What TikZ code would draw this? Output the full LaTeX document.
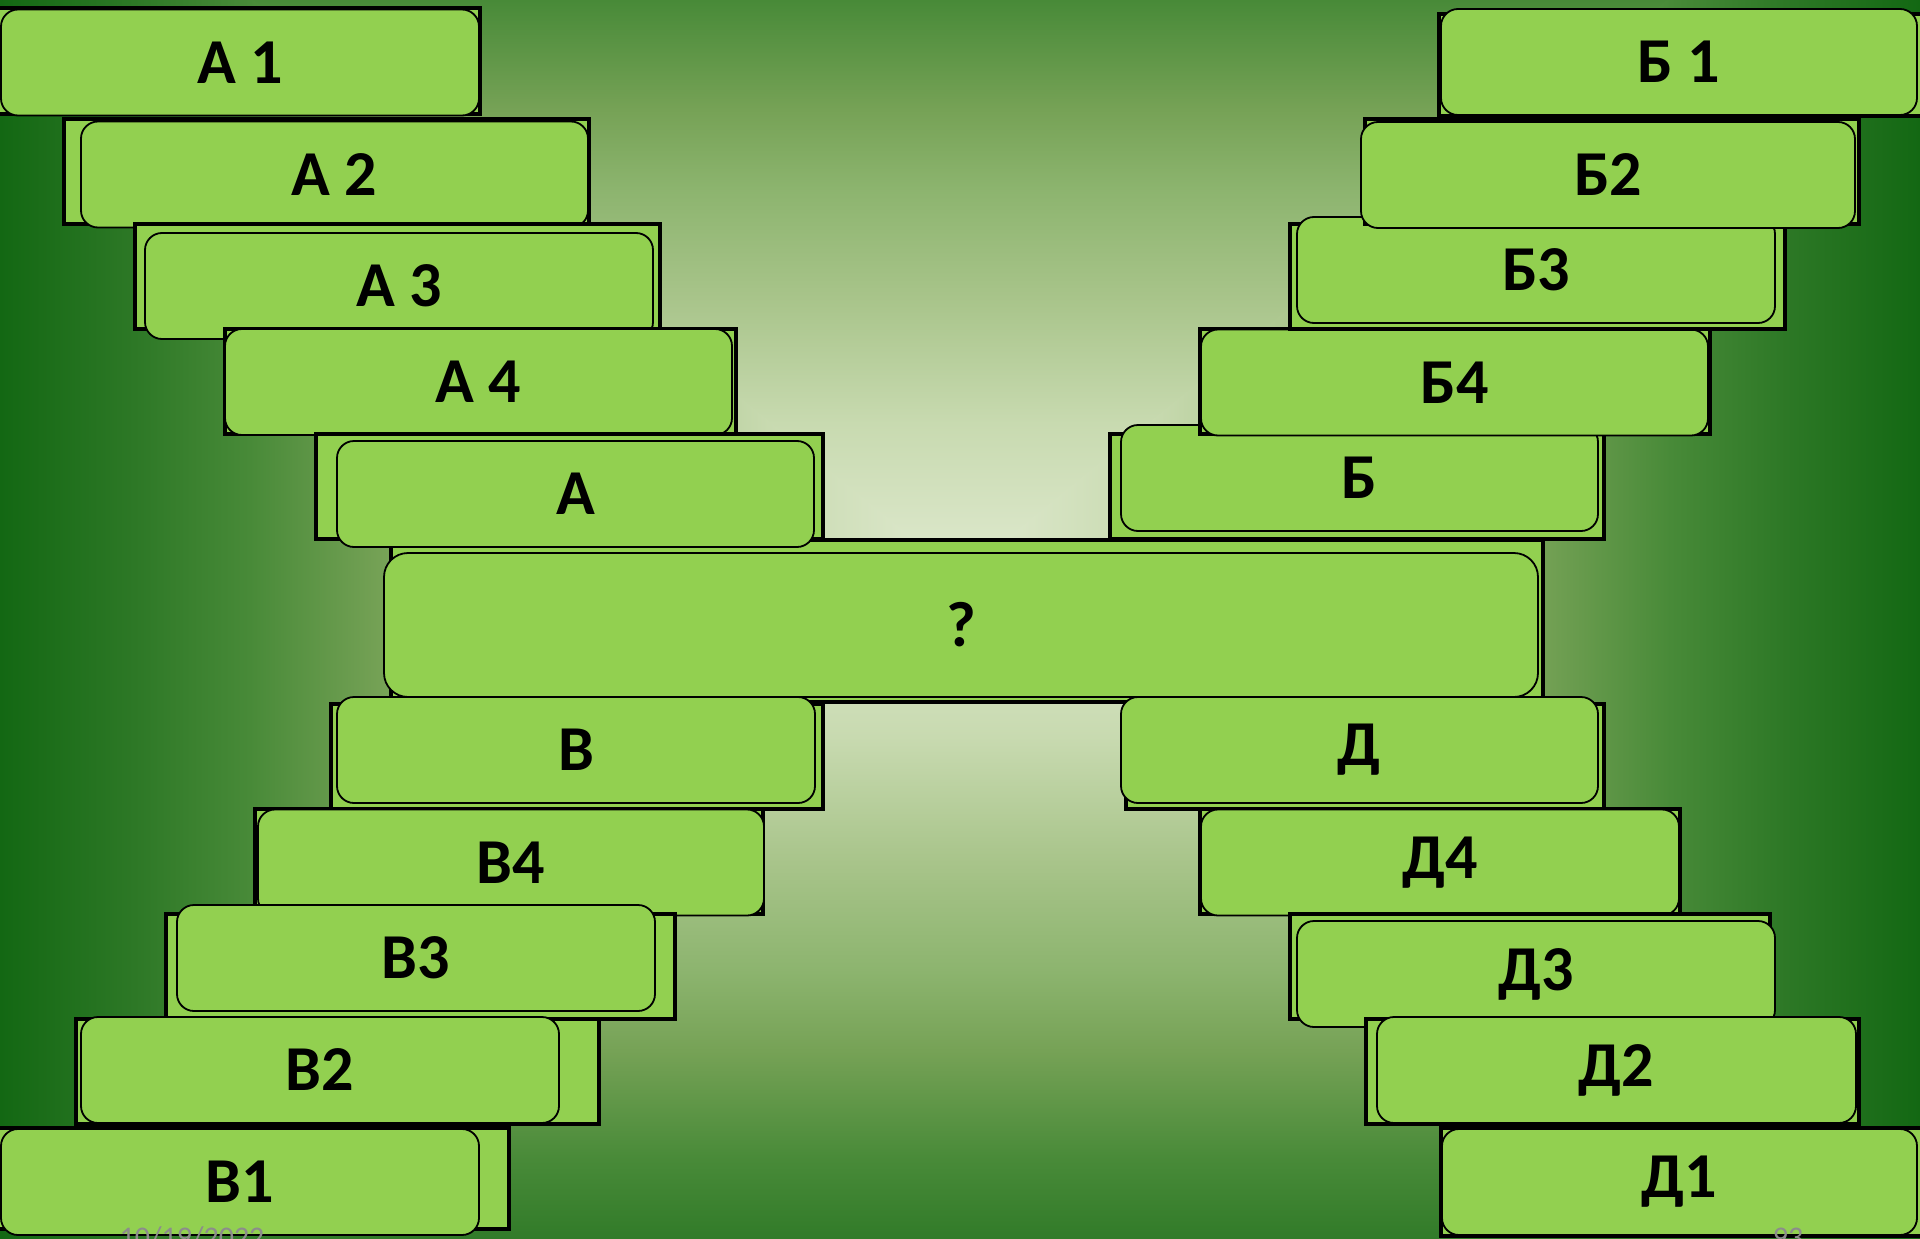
\documentclass[tikz,border=0pt]{standalone}
\usepackage{fontspec}
\setmainfont{Carlito}

\definecolor{boxgreen}{HTML}{92D050}
\definecolor{footgray}{RGB}{140,140,140}
% background ramp, from the light middle out to the dark rim
\definecolor{bgA}{RGB}{224,234,208}
\definecolor{bgB}{RGB}{200,218,176}
\definecolor{bgC}{RGB}{168,196,138}
\definecolor{bgD}{RGB}{140,180,110}
\definecolor{bgE}{RGB}{118,162,86}
\definecolor{bgF}{RGB}{72,138,56}
\definecolor{bgG}{RGB}{45,120,38}
\definecolor{bgH}{RGB}{19,104,19}
\pgfdeclareverticalshading{bgfade}{100bp}{color(0bp)=(bgA); color(25bp)=(bgA);
  color(35bp)=(bgB); color(43bp)=(bgC); color(50bp)=(bgD); color(55bp)=(bgE);
  color(62bp)=(bgF); color(68bp)=(bgG); color(75bp)=(bgH); color(100bp)=(bgH)}

\begin{document}
\begin{tikzpicture}[x=1pt, y=-1pt,
    backbox/.style={rectangle, draw=black, line width=4pt, fill=boxgreen, minimum height=105pt, inner sep=0pt},
    tilebox/.style={rectangle, rounded corners=17pt, draw=black, line width=1.8pt, fill=boxgreen,
      minimum height=106pt, inner sep=0pt, font=\fontsize{64}{70}\selectfont\bfseries},
    footer/.style={text=footgray, font=\fontsize{30}{34}\selectfont, inner sep=0pt, anchor=base}]
  \useasboundingbox (0,0) rectangle (1920,1239);

  % background
  \begin{scope}
    \clip (0,0) rectangle (1920,1239);
    \begin{scope}
      \clip (960,580) -- (-4,-204) -- (1924,-204) -- cycle;
      \shade[shading=bgfade] (0,-204) rectangle (1920,580);
    \end{scope}
    \begin{scope}
      \clip (960,580) -- (-4,1364) -- (1924,1364) -- cycle;
      \shade[shading=bgfade, shading angle=180] (0,580) rectangle (1920,1364);
    \end{scope}
    \begin{scope}
      \clip (964,580) -- (-4,-210) -- (-4,1370) -- cycle;
      \shade[shading=bgfade, shading angle=90] (0,-204) rectangle (960,1364);
    \end{scope}
    \begin{scope}
      \clip (956,580) -- (1924,-210) -- (1924,1370) -- cycle;
      \shade[shading=bgfade, shading angle=270] (960,-204) rectangle (1920,1364);
    \end{scope}
  \end{scope}

  % middle bar
  \node[backbox, minimum width=1152pt, minimum height=162pt] (qback) at (967,621) {};
  \node[tilebox, rounded corners=24pt, minimum width=1154pt, minimum height=144pt] (q) at (961,625) {?};

  % upper left stair
  \node[backbox, minimum width=498pt] (a1back) at (231,61) {};
  \node[tilebox, minimum width=478pt] (a1) at (240,62.5) {А 1};
  \node[backbox, minimum width=525pt] (a2back) at (326.5,171.5) {};
  \node[tilebox, minimum width=507pt] (a2) at (334.5,174.5) {А 2};
  \node[backbox, minimum width=525pt] (a3back) at (397.5,276) {};
  \node[tilebox, minimum width=508pt] (a3) at (399,286) {А 3};
  \node[backbox, minimum width=511pt] (a4back) at (480.5,381.5) {};
  \node[tilebox, minimum width=507pt] (a4) at (478.5,382) {А 4};
  \node[backbox, minimum width=507pt] (a0back) at (569.5,486) {};
  \node[tilebox, minimum width=477pt] (a0) at (575.5,494) {А};

  % upper right stair
  \node[backbox, minimum width=494pt] (b0back) at (1357,486.5) {};
  \node[tilebox, minimum width=477pt] (b0) at (1359.5,478) {Б};
  \node[backbox, minimum width=510pt] (b4back) at (1455,381.5) {};
  \node[tilebox, minimum width=507pt] (b4) at (1454.5,382.5) {Б4};
  \node[backbox, minimum width=495pt] (b3back) at (1537.5,276.5) {};
  \node[tilebox, minimum width=478pt] (b3) at (1536,270) {Б3};
  \node[backbox, minimum width=494pt] (b2back) at (1612,171.5) {};
  \node[tilebox, minimum width=494pt] (b2) at (1608,175) {Б2};
  \node[backbox, minimum width=499pt, minimum height=102pt] (b1back) at (1688.5,65) {};
  \node[tilebox, minimum width=476pt] (b1) at (1679,62) {Б 1};

  % lower left stair
  \node[backbox, minimum width=492pt] (v0back) at (577,756.5) {};
  \node[tilebox, minimum width=478pt] (v0) at (576,750) {В};
  \node[backbox, minimum width=508pt] (v4back) at (509,861.5) {};
  \node[tilebox, minimum width=506pt] (v4) at (511,862.5) {В4};
  \node[backbox, minimum width=509pt] (v3back) at (420.5,966) {};
  \node[tilebox, minimum width=478pt] (v3) at (416,958) {В3};
  \node[backbox, minimum width=523pt] (v2back) at (337.5,1071.5) {};
  \node[tilebox, minimum width=478pt] (v2) at (320,1070) {В2};
  \node[backbox, minimum width=527pt, minimum height=101pt] (v1back) at (245.5,1178.5) {};
  \node[tilebox, minimum width=478pt] (v1) at (240,1182) {В1};

  % lower right stair
  \node[backbox, minimum width=478pt] (d0back) at (1365,756) {};
  \node[tilebox, minimum width=477pt] (d0) at (1359.5,750) {Д};
  \node[backbox, minimum width=480pt] (d4back) at (1440,861.5) {};
  \node[tilebox, minimum width=478pt] (d4) at (1440,862.5) {Д4};
  \node[backbox, minimum width=480pt] (d3back) at (1530,966) {};
  \node[tilebox, minimum width=478pt] (d3) at (1536,974) {Д3};
  \node[backbox, minimum width=493pt] (d2back) at (1612.5,1071.5) {};
  \node[tilebox, minimum width=479pt] (d2) at (1616.5,1070) {Д2};
  \node[backbox, minimum width=497pt, minimum height=108pt] (d1back) at (1689.5,1182) {};
  \node[tilebox, minimum width=475pt] (d1) at (1679.5,1182) {Д1};

  % slide footer, cut off by the edge
  \node[footer] (date) at (192,1247) {10/19/2022};
  \node[footer] (pagenum) at (1788,1247) {93};
\end{tikzpicture}
\end{document}
